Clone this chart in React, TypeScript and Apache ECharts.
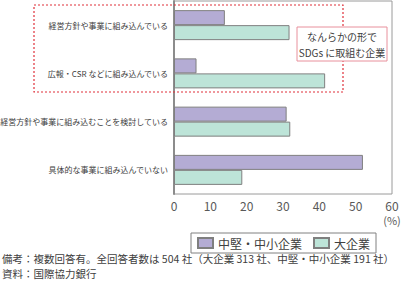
import React, { useEffect, useRef } from "react";
import * as echarts from "echarts";

const categories = [
  "経営方針や事業に組み込んでいる",
  "広報・CSR などに組み込んでいる",
  "経営方針や事業に組み込むことを検討している",
  "具体的な事業に組み込んでいない",
];
const seriesNames = ["中堅・中小企業", "大企業"];
const smeValues = [14, 6.2, 31, 52];
const largeValues = [31.8, 41.6, 32, 18.8];
const xTicks = { min: 0, max: 60, interval: 10 };
const noteLines = [
  "備考：複数回答有。全回答者数は 504 社（大企業 313 社、中堅・中小企業 191 社）",
  "資料：国際協力銀行",
];
const calloutLines = ["なんらかの形で", "SDGs に取組む企業"];

const FONT = '"Noto Sans CJK JP", "Noto Sans", sans-serif';

export default function App() {
  const ref = useRef<HTMLDivElement>(null);
  useEffect(() => {
    document.body.style.margin = "0";
    const chart = echarts.init(ref.current!, null, { renderer: "svg" });
    chart.setOption({
      animation: false,
      backgroundColor: "#ffffff",
      textStyle: { fontFamily: FONT },
      grid: {
        left: 174,
        top: 1,
        right: 14,
        height: 193,
        containLabel: false,
        outerBoundsMode: "none",
        show: true,
        borderColor: "#9a9a9a",
        borderWidth: 1,
      },
      xAxis: {
        type: "value",
        min: xTicks.min,
        max: xTicks.max,
        interval: xTicks.interval,
        axisLine: { show: false },
        axisTick: { show: false },
        splitLine: { show: false },
        axisLabel: { color: "#595959", fontSize: 12, margin: 5, fontFamily: FONT },
      },
      yAxis: {
        type: "category",
        inverse: true,
        data: categories,
        axisLine: { show: true, lineStyle: { color: "#8c8c8c", width: 2 } },
        axisTick: { show: false },
        axisLabel: { color: "#404040", fontSize: 8, margin: 6, fontFamily: FONT },
      },
      legend: {
        left: 191,
        top: 233,
        orient: "horizontal",
        itemWidth: 15,
        itemHeight: 10,
        itemGap: 11,
        padding: [4, 6],
        borderColor: "#808080",
        borderWidth: 1,
        icon: "rect",
        textStyle: { fontSize: 12, color: "#404040", fontFamily: FONT },
        data: seriesNames,
      },
      series: [
        {
          name: seriesNames[0],
          type: "bar",
          data: smeValues,
          barWidth: 15,
          barGap: "0%",
          itemStyle: { color: "#b4acd4", borderColor: "#7f7f7f", borderWidth: 1 },
        },
        {
          name: seriesNames[1],
          type: "bar",
          data: largeValues,
          barWidth: 15,
          barGap: "0%",
          itemStyle: { color: "#bde4d8", borderColor: "#7f7f7f", borderWidth: 1 },
        },
      ],
      graphic: [
        {
          type: "rect",
          z: 100,
          shape: { x: 34, y: 5, width: 309, height: 87 },
          style: { fill: "none", stroke: "#e0303a", lineWidth: 1.2, lineDash: [2, 2] },
        },
        {
          type: "rect",
          z: 101,
          shape: { x: 297, y: 27, width: 90, height: 34 },
          style: { fill: "#ffffff", stroke: "#e8909c", lineWidth: 1 },
        },
        {
          type: "text",
          z: 102,
          x: 342,
          y: 36,
          style: {
            text: calloutLines[0],
            fontSize: 10,
            fontFamily: FONT,
            fill: "#404040",
            align: "center",
            verticalAlign: "middle",
          },
        },
        {
          type: "text",
          z: 102,
          x: 342,
          y: 52,
          style: {
            text: calloutLines[1],
            fontSize: 10,
            fontFamily: FONT,
            fill: "#404040",
            align: "center",
            verticalAlign: "middle",
          },
        },
        {
          type: "text",
          x: 392,
          y: 220,
          style: {
            text: "(%)",
            fontSize: 11,
            lineHeight: 11,
            fontFamily: FONT,
            fill: "#595959",
            align: "center",
            verticalAlign: "middle",
          },
        },
        {
          type: "text",
          x: 2,
          y: 258.6,
          style: {
            text: noteLines[0],
            fontSize: 10.5,
            lineHeight: 12,
            fontFamily: FONT,
            fill: "#404040",
            align: "left",
            verticalAlign: "middle",
          },
        },
        {
          type: "text",
          x: 2,
          y: 273.2,
          style: {
            text: noteLines[1],
            fontSize: 10.5,
            lineHeight: 12,
            fontFamily: FONT,
            fill: "#404040",
            align: "left",
            verticalAlign: "middle",
          },
        },
      ],
    });
    return () => chart.dispose();
  }, []);
  return (
    <div
      ref={ref}
      style={{ position: "absolute", left: 0, top: 0, width: 406, height: 286 }}
    />
  );
}
